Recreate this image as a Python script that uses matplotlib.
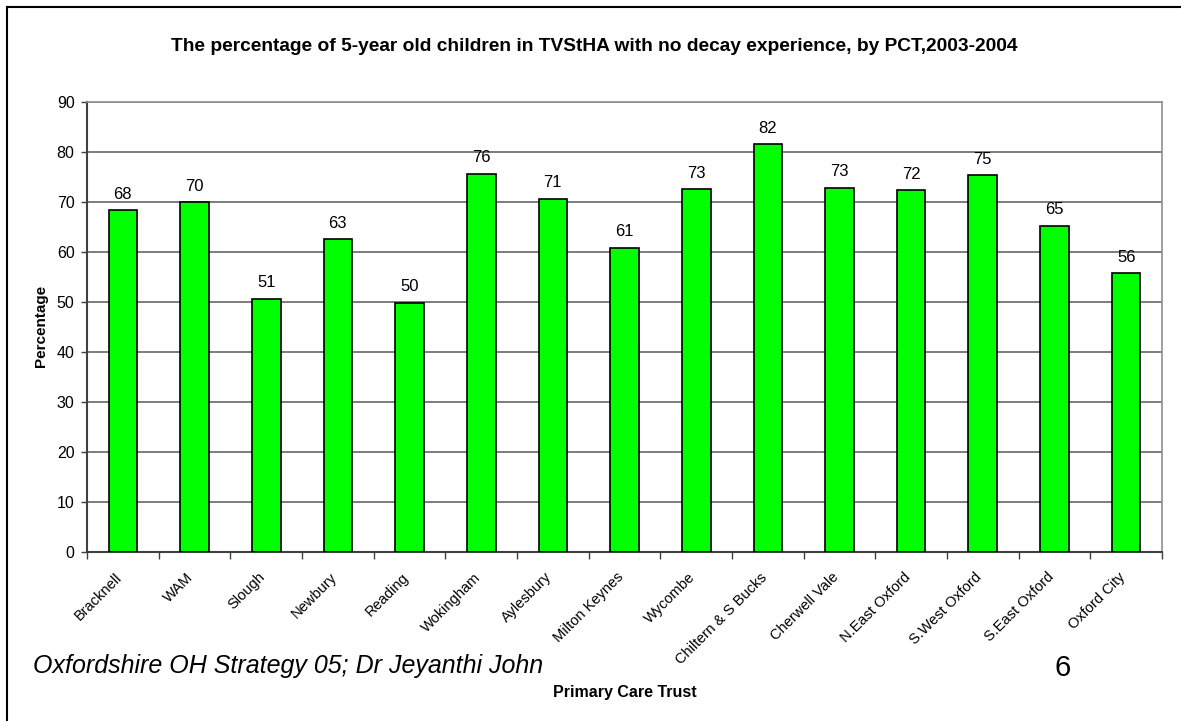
import matplotlib.pyplot as plt
import numpy as np
from matplotlib.lines import Line2D
from matplotlib.transforms import ScaledTranslation

# Percentage of 5-year olds with no decay experience, per PCT (2003-2004)
trusts = ["Bracknell", "WAM", "Slough", "Newbury", "Reading", "Wokingham",
          "Aylesbury", "Milton Keynes", "Wycombe", "Chiltern & S Bucks",
          "Cherwell Vale", "N.East Oxford", "S.West Oxford", "S.East Oxford",
          "Oxford City"]
no_decay = [68.4, 70.0, 50.7, 62.6, 49.9, 75.7, 70.7, 60.9, 72.6, 81.6,
            72.9, 72.4, 75.4, 65.3, 55.8]
y_ticks = list(range(0, 100, 10))

plt.rcParams['font.family'] = ['Liberation Sans', 'DejaVu Sans']

fig = plt.figure(figsize=(11.81, 7.21), dpi=100)
ax = fig.add_axes([0.0737, 0.2344, 0.9102, 0.6241])

x = np.arange(len(trusts))
bars = ax.bar(x, no_decay, width=0.40, color='#00ff00', edgecolor='black',
              linewidth=1.2, zorder=3)
for b, v in zip(bars, no_decay):
    ax.text(b.get_x() + b.get_width() / 2, v + 1.7, f"{v:.0f}",
            ha='center', va='bottom', fontsize=12)

ax.set_xlim(-0.5, len(trusts) - 0.5)
ax.set_ylim(0, 90)
ax.set_yticks(y_ticks)
ax.tick_params(axis='y', labelsize=11.5, length=4, width=1, color='#404040', pad=5)
ax.yaxis.grid(True, color='#666666', linewidth=1.2, zorder=0)

# category labels centred under bars, ticks on the category boundaries
ax.set_xticks(x)
ax.set_xticklabels(trusts, rotation=45, ha='right', va='top',
                   rotation_mode='anchor', fontsize=10.5)
ax.tick_params(axis='x', which='major', length=0, pad=13)
shift = ScaledTranslation(-8 / 100, 0, fig.dpi_scale_trans)
for lbl in ax.get_xticklabels():
    lbl.set_transform(lbl.get_transform() + shift)
ax.set_xticks(np.arange(len(trusts) + 1) - 0.5, minor=True)
ax.tick_params(axis='x', which='minor', length=5, width=1, color='#404040')

for side in ('left', 'bottom'):
    ax.spines[side].set_color('#404040')
    ax.spines[side].set_linewidth(1.5)
for side in ('right', 'top'):
    ax.spines[side].set_color('#909090')
    ax.spines[side].set_linewidth(1.2)

fig.text(0.503, 0.936, "The percentage of 5-year old children in TVStHA with no decay "
         "experience, by PCT,2003-2004", ha='center', va='center',
         fontsize=13.8, fontweight='bold')
fig.text(0.035, 0.548, "Percentage", rotation=90, ha='center', va='center',
         fontsize=11, fontweight='bold')
fig.text(0.529, 0.040, "Primary Care Trust", ha='center', va='center',
         fontsize=11.5, fontweight='bold')
fig.text(0.028, 0.076, "Oxfordshire OH Strategy 05; Dr Jeyanthi John",
         ha='left', va='center', fontsize=18, style='italic')
fig.text(0.900, 0.073, "6", ha='center', va='center', fontsize=21)

# slide frame: only the left and top edges fall inside the canvas
fig.add_artist(Line2D([0.006, 0.006], [0.0, 0.9905], color='black',
                      linewidth=1.5, transform=fig.transFigure))
fig.add_artist(Line2D([0.006, 1.0], [0.9905, 0.9905], color='black',
                      linewidth=1.5, transform=fig.transFigure))

fig.savefig('out.png', dpi=100)
